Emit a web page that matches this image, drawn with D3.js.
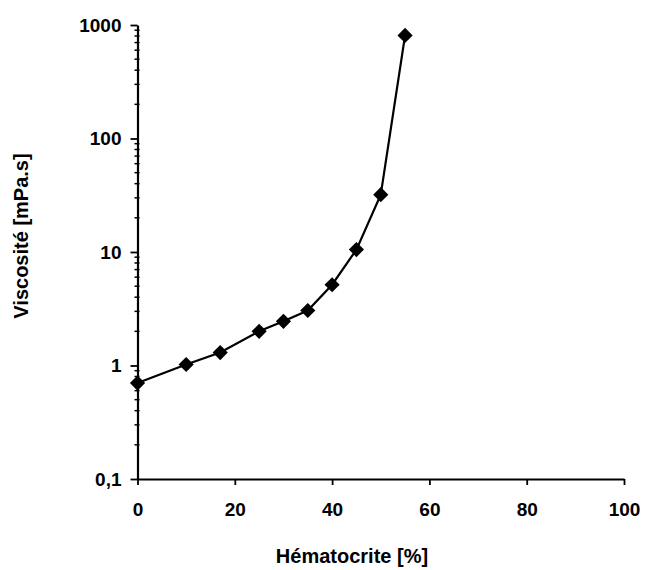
<!DOCTYPE html>
<html>
<head>
<meta charset="utf-8">
<script src="https://cdn.jsdelivr.net/npm/d3@7"></script>
<style>
  body { margin: 0; background: #fff; }
</style>
</head>
<body>
<script>

// --- data ---
var hematocrit = [0, 10, 17, 25, 30, 35, 40, 45, 50, 55];
var viscosity  = [0.70, 1.02, 1.30, 2.0, 2.45, 3.05, 5.15, 10.5, 32, 810];

var xTicks = [0, 20, 40, 60, 80, 100];
var yTicks = [0.1, 1, 10, 100, 1000];
var yTickLabels = ["0,1", "1", "10", "100", "1000"];

var xTitle = "Hématocrite [%]",
    yTitle = "Viscosité [mPa.s]";


// --- layout ---
var W = 645, H = 570;
var margin = { top: 25, right: 21, bottom: 91, left: 137.5 };
var width = W - margin.left - margin.right,
    height = H - margin.top - margin.bottom;

var font = '"Liberation Sans", Arial, sans-serif';

var svg = d3.select("body")
    .append("svg")
    .attr("width", W)
    .attr("height", H);

var g = svg.append("g")
    .attr("transform", "translate(" + margin.left + "," + margin.top + ")");

var xScale = d3.scaleLinear()
    .domain([0, 100])
    .range([0, width]);

var yScale = d3.scaleLog()
    .domain([0.1, 1000])
    .range([height, 0]);


// --- y minor ticks (2..9 of each decade) ---
var minor = [];
for (var d = 0.1; d < 1000; d *= 10) {
    for (var k = 2; k <= 9; k++) minor.push(d * k);
}

g.append("g").selectAll("line")
    .data(minor)
    .enter().append("line")
    .attr("x1", -3)
    .attr("x2", 2)
    .attr("y1", function(v) { return yScale(v); })
    .attr("y2", function(v) { return yScale(v); })
    .attr("stroke", "#000")
    .attr("stroke-width", 1.5);

// --- y axis ---
var yAxis = g.append("g")
    .call(d3.axisLeft(yScale)
        .tickValues(yTicks)
        .tickFormat(function(v, i) { return yTickLabels[i]; })
        .tickSize(7)
        .tickSizeOuter(0)
        .tickPadding(9));

yAxis.select(".domain").attr("stroke-width", 2.2);
yAxis.selectAll(".tick line").attr("stroke-width", 1.8);
yAxis.selectAll("text")
    .attr("font-family", font)
    .attr("font-size", "19px")
    .attr("font-weight", "bold")
    .attr("fill", "#000");

// --- x axis ---
var xAxis = g.append("g")
    .attr("transform", "translate(0," + height + ")")
    .call(d3.axisBottom(xScale)
        .tickValues(xTicks)
        .tickSize(6)
        .tickSizeOuter(0)
        .tickPadding(18));

xAxis.select(".domain").attr("stroke-width", 2.2);
xAxis.selectAll(".tick line").attr("stroke-width", 1.8);
xAxis.selectAll("text")
    .attr("font-family", font)
    .attr("font-size", "19px")
    .attr("font-weight", "bold")
    .attr("fill", "#000");


// --- curve ---
var pts = hematocrit.map(function(h, i) { return [h, viscosity[i]]; });

var line = d3.line()
    .x(function(p) { return xScale(p[0]); })
    .y(function(p) { return yScale(p[1]); });

g.append("path")
    .datum(pts)
    .attr("d", line)
    .attr("fill", "none")
    .attr("stroke", "#000")
    .attr("stroke-width", 2.2);

// --- diamond markers ---
var diamond = d3.symbol().type(d3.symbolSquare).size(115);

g.append("g").selectAll("path")
    .data(pts)
    .enter().append("path")
    .attr("d", diamond)
    .attr("transform", function(p) {
        return "translate(" + xScale(p[0]) + "," + yScale(p[1]) + ") rotate(45)";
    })
    .attr("fill", "#000");


// --- titles ---
svg.append("text")
    .text(xTitle)
    .attr("x", 352)
    .attr("y", 563)
    .attr("text-anchor", "middle")
    .attr("font-family", font)
    .attr("font-size", "20px")
    .attr("font-weight", "bold")
    .attr("fill", "#000");

svg.append("text")
    .text(yTitle)
    .attr("transform", "translate(28,236) rotate(-90)")
    .attr("text-anchor", "middle")
    .attr("font-family", font)
    .attr("font-size", "20px")
    .attr("font-weight", "bold")
    .attr("fill", "#000");

</script>
</body>
</html>
